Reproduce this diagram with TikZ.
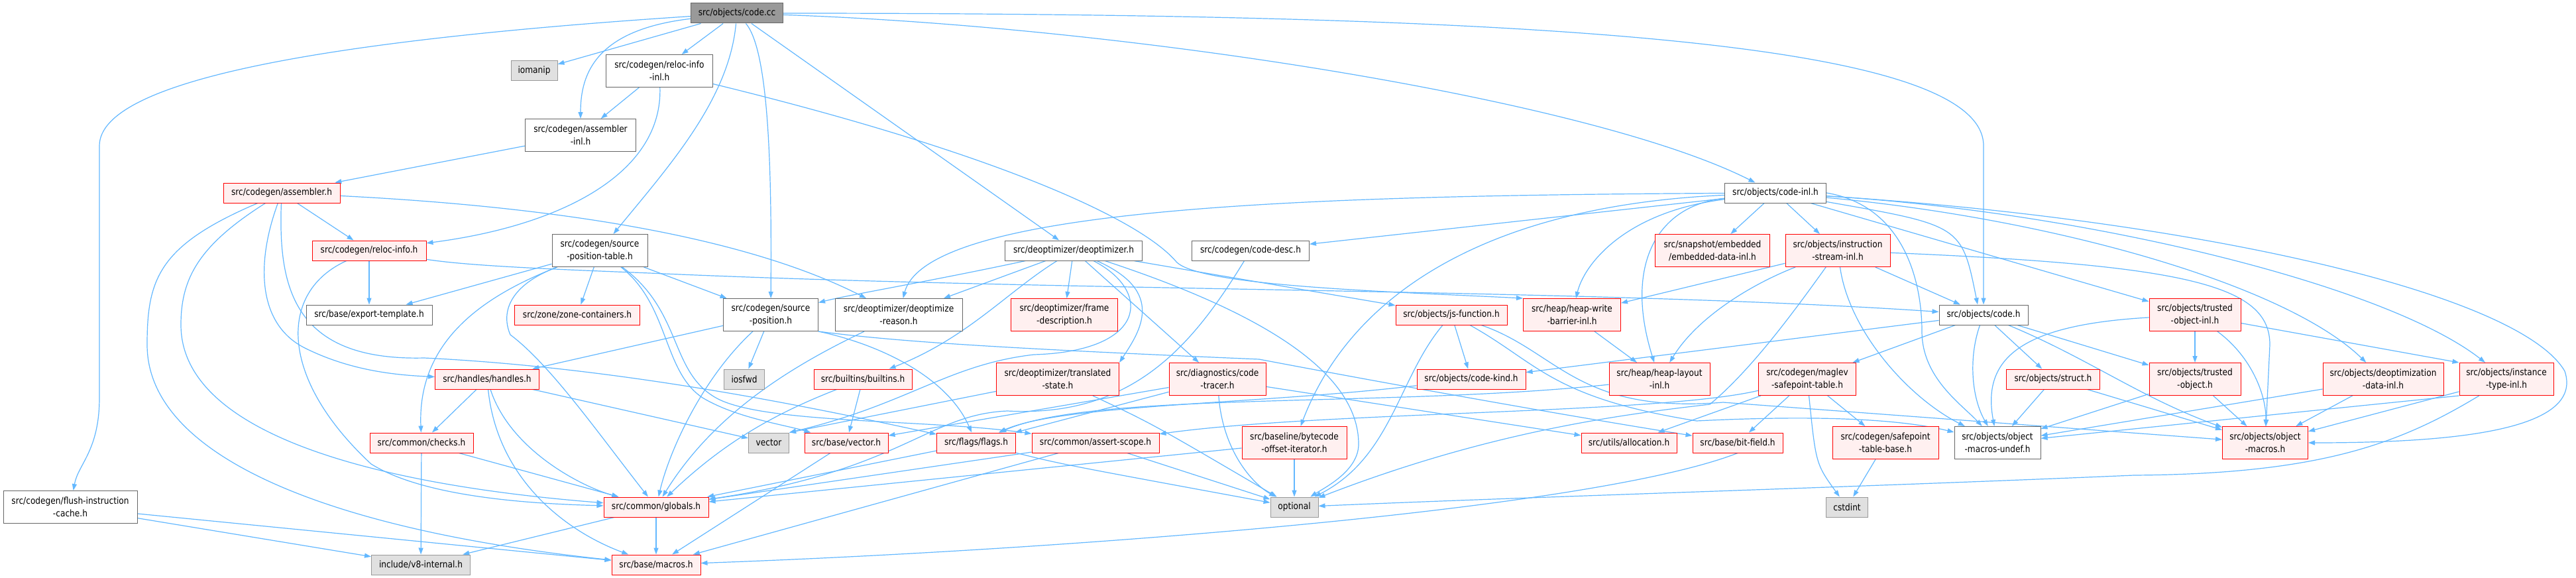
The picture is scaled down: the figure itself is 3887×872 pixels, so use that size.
\documentclass[tikz,border=0pt]{standalone}
\usepackage{fontspec}
\setmainfont{DejaVu Sans}[FakeStretch=0.87]
\usetikzlibrary{arrows.meta}
\pgfdeclarelayer{background}
\pgfsetlayers{background,main}
\definecolor{edgeblue}{HTML}{63B8FF}
\definecolor{redfill}{HTML}{FFF0F0}
\definecolor{redline}{HTML}{FF0000}
\definecolor{grayline}{HTML}{666666}
\definecolor{extfill}{HTML}{E0E0E0}
\definecolor{extline}{HTML}{999999}
\definecolor{rootfill}{HTML}{999999}
\begin{document}
\begin{tikzpicture}[x=1pt,y=-1pt,
  box/.style={draw, rectangle, inner sep=0pt, align=center, line width=1pt,
    font=\fontsize{14}{19}\selectfont, minimum height=30pt},
  tall/.style={minimum height=49pt},
  rednode/.style={box, fill=redfill, draw=redline},
  whitenode/.style={box, fill=white, draw=grayline},
  extnode/.style={box, fill=extfill, draw=extline},
  rootnode/.style={box, fill=rootfill, draw=grayline},
  dep/.style={draw=edgeblue, line width=1.2pt, -{Triangle[length=10pt,width=7pt]}}
]
\useasboundingbox (0,0) rectangle (3887,872);
% nodes
\node[rootnode, minimum width=139pt] (codecc) at (1112,20) {src/objects/code.cc};
\node[extnode, minimum width=70pt] (iomanip) at (806,107) {iomanip};
\node[whitenode, tall, minimum width=161pt] (relocinl) at (995,107) {src/codegen/reloc-info\\-inl.h};
\node[whitenode, tall, minimum width=167pt] (asminl) at (876,204) {src/codegen/assembler\\-inl.h};
\node[rednode, minimum width=176pt] (asm) at (425,291) {src/codegen/assembler.h};
\node[whitenode, minimum width=153pt] (codeinl) at (2679,291) {src/objects/code-inl.h};
\node[rednode, minimum width=172pt] (reloc) at (557,378) {src/codegen/reloc-info.h};
\node[whitenode, tall, minimum width=144pt] (spt) at (905,378) {src/codegen/source\\-position-table.h};
\node[whitenode, minimum width=207pt] (deopt) at (1620,378) {src/deoptimizer/deoptimizer.h};
\node[whitenode, minimum width=177pt] (codedesc) at (1887,378) {src/codegen/code-desc.h};
\node[rednode, tall, minimum width=173pt] (embedded) at (2584,378) {src/snapshot/embedded\\/embedded-data-inl.h};
\node[rednode, tall, minimum width=158pt] (isinl) at (2773,378) {src/objects/instruction\\-stream-inl.h};
\node[whitenode, minimum width=190pt] (exporttpl) at (557,475) {src/base/export-template.h};
\node[rednode, minimum width=189pt] (zone) at (871,475) {src/zone/zone-containers.h};
\node[whitenode, tall, minimum width=143pt] (sp) at (1163,475) {src/codegen/source\\-position.h};
\node[whitenode, tall, minimum width=192pt] (reason) at (1356,475) {src/deoptimizer/deoptimize\\-reason.h};
\node[rednode, tall, minimum width=161pt] (frame) at (1606,475) {src/deoptimizer/frame\\-description.h};
\node[rednode, minimum width=168pt] (jsfn) at (2190,475) {src/objects/js-function.h};
\node[rednode, tall, minimum width=147pt] (wb) at (2372,475) {src/heap/heap-write\\-barrier-inl.h};
\node[whitenode, minimum width=134pt] (codeh) at (2993,475) {src/objects/code.h};
\node[rednode, tall, minimum width=138pt] (toinl) at (3312,475) {src/objects/trusted\\-object-inl.h};
\node[rednode, minimum width=157pt] (handles) at (735,572) {src/handles/handles.h};
\node[extnode, minimum width=61pt] (iosfwd) at (1123,572) {iosfwd};
\node[rednode, minimum width=148pt] (builtins) at (1302,572) {src/builtins/builtins.h};
\node[rednode, tall, minimum width=185pt] (translated) at (1596,572) {src/deoptimizer/translated\\-state.h};
\node[rednode, tall, minimum width=146pt] (tracer) at (1837,572) {src/diagnostics/code\\-tracer.h};
\node[rednode, minimum width=164pt] (codekind) at (2220,572) {src/objects/code-kind.h};
\node[rednode, tall, minimum width=152pt] (layout) at (2504,572) {src/heap/heap-layout\\-inl.h};
\node[rednode, tall, minimum width=147pt] (maglev) at (2727,572) {src/codegen/maglev\\-safepoint-table.h};
\node[rednode, minimum width=141pt] (strct) at (3098,572) {src/objects/struct.h};
\node[rednode, tall, minimum width=138pt] (tobj) at (3312,572) {src/objects/trusted\\-object.h};
\node[rednode, tall, minimum width=182pt] (ddinl) at (3596,572) {src/objects/deoptimization\\-data-inl.h};
\node[rednode, tall, minimum width=142pt] (itinl) at (3782,572) {src/objects/instance\\-type-inl.h};
\node[whitenode, tall, minimum width=202pt] (flush) at (106,765) {src/codegen/flush-instruction\\-cache.h};
\node[rednode, minimum width=156pt] (checks) at (636,668) {src/common/checks.h};
\node[extnode, minimum width=61pt] (vector) at (1160,668) {vector};
\node[rednode, minimum width=126pt] (bvector) at (1277,668) {src/base/vector.h};
\node[rednode, minimum width=119pt] (flags) at (1473,668) {src/flags/flags.h};
\node[rednode, minimum width=192pt] (asrt) at (1653,668) {src/common/assert-scope.h};
\node[rednode, tall, minimum width=158pt] (bcoi) at (1953,668) {src/baseline/bytecode\\-offset-iterator.h};
\node[rednode, minimum width=144pt] (alloc) at (2458,668) {src/utils/allocation.h};
\node[rednode, minimum width=136pt] (bitfield) at (2622,668) {src/base/bit-field.h};
\node[rednode, tall, minimum width=160pt] (spbase) at (2845,668) {src/codegen/safepoint\\-table-base.h};
\node[whitenode, tall, minimum width=130pt] (omundef) at (3014,668) {src/objects/object\\-macros-undef.h};
\node[rednode, tall, minimum width=129pt] (om) at (3418,668) {src/objects/object\\-macros.h};
\node[rednode, minimum width=158pt] (globals) at (990,765) {src/common/globals.h};
\node[extnode, minimum width=72pt] (optional) at (1953,765) {optional};
\node[extnode, minimum width=63pt] (cstdint) at (2787,765) {cstdint};
\node[extnode, minimum width=149pt] (v8int) at (635,852) {include/v8-internal.h};
\node[rednode, minimum width=134pt] (macros) at (990,852) {src/base/macros.h};

\begin{pgfonlayer}{background}
\fill[white] (0,0) rectangle (3887,872);
% code.cc
\draw[dep] (codecc) .. controls (500,60) and (150,120) .. (150,220) -- (150,600) .. controls (150,680) and (118,700) .. (flush);
\draw[dep] (codecc) -- (iomanip);
\draw[dep] (codecc) .. controls (900,45) and (876,110) .. (asminl);
\draw[dep] (codecc) -- (relocinl);
\draw[dep] (codecc) .. controls (1100,150) and (1010,250) .. (spt);
\draw[dep] (codecc) .. controls (1164,80) and (1164,300) .. (sp);
\draw[dep] (codecc) -- (deopt);
\draw[dep] (codecc) .. controls (1700,40) and (2400,150) .. (codeinl);
\draw[dep] (codecc) .. controls (2300,20) and (2993,60) .. (2993,220) -- (codeh.north);
% reloc-info-inl
\draw[dep] (relocinl) -- (asminl);
\draw[dep] (relocinl) .. controls (1000,260) and (850,340) .. (reloc);
\draw[dep] (relocinl) .. controls (1500,230) and (1720,330) .. (1775,395) .. controls (1810,432) and (2100,440) .. (wb.north west);
% assembler-inl
\draw[dep] (asminl) -- (asm);
% assembler
\draw[dep] (asm) -- (reloc);
\draw[dep] (asm) .. controls (900,315) and (1150,370) .. (reason);
\draw[dep] (asm) .. controls (300,370) and (273,420) .. (273,490) .. controls (273,650) and (550,730) .. (globals);
\draw[dep] (asm) .. controls (240,370) and (222,420) .. (222,520) .. controls (222,690) and (500,800) .. (macros);
\draw[dep] (asm) .. controls (385,400) and (390,490) .. (460,525) .. controls (530,560) and (600,566) .. (handles);
\draw[dep] (asm) .. controls (420,430) and (440,545) .. (640,540) .. controls (950,555) and (1250,620) .. (flags);
% reloc-info
\draw[dep] (reloc) -- (exporttpl);
\draw[dep] (reloc) .. controls (420,440) and (420,570) .. (560,700) .. controls (640,750) and (800,760) .. (globals);
\draw[dep] (reloc) .. controls (700,400) and (800,405) .. (980,412) .. controls (1600,440) and (2400,435) .. (codeh);
% source-position-table
\draw[dep] (spt) -- (exporttpl);
\draw[dep] (spt) .. controls (720,450) and (630,520) .. (checks);
\draw[dep] (spt) .. controls (770,430) and (755,470) .. (770,505) .. controls (830,550) and (900,650) .. (globals);
\draw[dep] (spt) -- (zone);
\draw[dep] (spt) .. controls (1010,460) and (1000,560) .. (1060,600) .. controls (1110,630) and (1180,640) .. (bvector);
\draw[dep] (spt) .. controls (1030,470) and (1010,560) .. (1080,600) .. controls (1150,640) and (1400,632) .. (asrt);
\draw[dep] (spt) -- (sp);
% source-position
\draw[dep] (sp) -- (handles);
\draw[dep] (sp) .. controls (1060,570) and (1010,680) .. (globals);
\draw[dep] (sp) -- (iosfwd);
\draw[dep] (sp.south east) .. controls (1330,520) and (1430,570) .. (flags);
\draw[dep] (sp.south east) .. controls (1350,515) and (1500,525) .. (1900,542) .. controls (2100,580) and (2380,630) .. (bitfield);
% deoptimize-reason
\draw[dep] (reason) .. controls (1200,550) and (1080,620) .. (globals);
% deoptimizer
\draw[dep] (deopt) .. controls (1400,425) and (1280,445) .. (sp);
\draw[dep] (deopt) -- (reason);
\draw[dep] (deopt) .. controls (1520,440) and (1460,510) .. (builtins);
\draw[dep] (deopt) -- (frame);
\draw[dep] (deopt) .. controls (1740,440) and (1730,530) .. (1560,535) .. controls (1430,550) and (1370,610) .. (vector.north east);
\draw[dep] (deopt) .. controls (1760,440) and (1720,500) .. (translated.north east);
\draw[dep] (deopt) -- (tracer);
\draw[dep] (deopt) .. controls (1900,470) and (2050,560) .. (2050,670) .. controls (2050,710) and (2000,735) .. (optional);
\draw[dep] (deopt) -- (jsfn);
% code-desc
\draw[dep] (codedesc) .. controls (1800,520) and (1710,630) .. (1520,620) .. controls (1400,625) and (1360,710) .. (globals);
% code-inl
\draw[dep] (codeinl) .. controls (2000,295) and (1400,310) .. (reason);
\draw[dep] (codeinl) -- (codedesc);
\draw[dep] (codeinl) .. controls (2250,310) and (2040,440) .. (bcoi);
\draw[dep] (codeinl) .. controls (2450,320) and (2390,400) .. (wb);
\draw[dep] (codeinl) .. controls (2500,310) and (2450,400) .. (layout);
\draw[dep] (codeinl) -- (embedded);
\draw[dep] (codeinl) -- (isinl);
\draw[dep] (codeinl.east) .. controls (2870,310) and (2900,420) .. (2900,500) .. controls (2900,570) and (2960,610) .. (omundef);
\draw[dep] (codeinl) .. controls (2960,340) .. (codeh.120);
\draw[dep] (codeinl) -- (toinl);
\draw[dep] (codeinl) .. controls (3100,330) and (3450,430) .. (ddinl);
\draw[dep] (codeinl) .. controls (3150,320) and (3600,430) .. (itinl);
\draw[dep] (codeinl) .. controls (3300,330) and (3800,440) .. (3870,560) .. controls (3900,650) and (3700,668) .. (om);
% instruction-stream-inl
\draw[dep] (isinl) .. controls (2600,420) .. (wb);
\draw[dep] (isinl) .. controls (2640,430) and (2560,480) .. (layout);
\draw[dep] (isinl) .. controls (2700,480) and (2640,560) .. (2580,610) .. controls (2450,625) and (2250,650) .. (optional);
\draw[dep] (isinl) .. controls (2790,500) and (2880,600) .. (omundef);
\draw[dep] (isinl) -- (codeh);
\draw[dep] (isinl) .. controls (3300,400) and (3425,430) .. (3425,520) -- (om);
% code.h
\draw[dep] (codeh) -- (codekind);
\draw[dep] (codeh) -- (maglev);
\draw[dep] (codeh) .. controls (2970,540) and (2975,600) .. (omundef);
\draw[dep] (codeh) -- (strct);
\draw[dep] (codeh) -- (tobj);
\draw[dep] (codeh) .. controls (3150,540) and (3230,600) .. (om);
% trusted-object-inl
\draw[dep] (toinl) -- (tobj);
\draw[dep] (toinl) .. controls (3400,540) and (3420,600) .. (om);
\draw[dep] (toinl) .. controls (3050,490) and (2990,540) .. (omundef);
\draw[dep] (toinl) -- (itinl.north west);
% trusted-object, struct, deoptimization-data, instance-type
\draw[dep] (tobj) -- (om);
\draw[dep] (tobj) -- (omundef);
\draw[dep] (strct) -- (omundef);
\draw[dep] (strct) -- (om);
\draw[dep] (ddinl) -- (om);
\draw[dep] (ddinl) -- (omundef);
\draw[dep] (itinl) -- (om);
\draw[dep] (itinl.south west) -- (omundef);
\draw[dep] (itinl) .. controls (3620,670) and (3500,715) .. (3220,717) .. controls (2800,735) and (2300,750) .. (optional);
% js-function
\draw[dep] (jsfn) .. controls (2110,570) and (2100,690) .. (optional);
\draw[dep] (jsfn) -- (codekind);
\draw[dep] (jsfn) .. controls (2320,547) and (2340,600) .. (2560,635) .. controls (2700,628) and (2850,628) .. (omundef);
\draw[dep] (jsfn) .. controls (2350,530) and (2380,625) .. (2600,607) -- (om);
% heap
\draw[dep] (wb) -- (layout);
\draw[dep] (layout) .. controls (2100,615) and (1650,590) .. (flags);
\draw[dep] (codekind) .. controls (1900,610) and (1600,610) .. (flags);
% code-tracer
\draw[dep] (tracer) -- (flags);
\draw[dep] (tracer) -- (bvector);
\draw[dep] (tracer) -- (alloc);
\draw[dep] (tracer) .. controls (1845,680) and (1890,730) .. (optional);
% translated-state
\draw[dep] (translated) -- (vector.north east);
\draw[dep] (translated) .. controls (1740,640) .. (optional);
% builtins
\draw[dep] (builtins) -- (bvector);
\draw[dep] (builtins) .. controls (1180,620) and (1100,660) .. (globals);
% handles
\draw[dep] (handles) -- (vector);
\draw[dep] (handles) .. controls (750,720) and (850,800) .. (macros);
\draw[dep] (handles) -- (checks);
\draw[dep] (handles) .. controls (770,680) and (880,735) .. (globals);
% checks, globals, flush
\draw[dep] (checks) -- (v8int);
\draw[dep] (checks) -- (globals);
\draw[dep] (globals) -- (v8int);
\draw[dep] (globals) -- (macros);
\draw[dep] (flush) -- (v8int);
\draw[dep] (flush) -- (macros);
% lower row
\draw[dep] (bvector) -- (macros);
\draw[dep] (flags) -- (globals);
\draw[dep] (flags) .. controls (1600,700) .. (optional);
\draw[dep] (asrt) -- (macros);
\draw[dep] (asrt) -- (globals);
\draw[dep] (asrt) -- (optional);
\draw[dep] (bcoi) -- (globals);
\draw[dep] (bcoi) -- (optional);
\draw[dep] (bitfield.south) .. controls (2400,770) and (1600,830) .. (macros);
% maglev
\draw[dep] (maglev) -- (bitfield);
\draw[dep] (maglev) .. controls (2740,700) .. (cstdint);
\draw[dep] (maglev) -- (spbase);
\draw[dep] (maglev) -- (alloc);
\draw[dep] (maglev) .. controls (2500,625) and (2000,620) .. (asrt);
\draw[dep] (spbase) -- (cstdint);
\end{pgfonlayer}
\end{tikzpicture}
\end{document}
